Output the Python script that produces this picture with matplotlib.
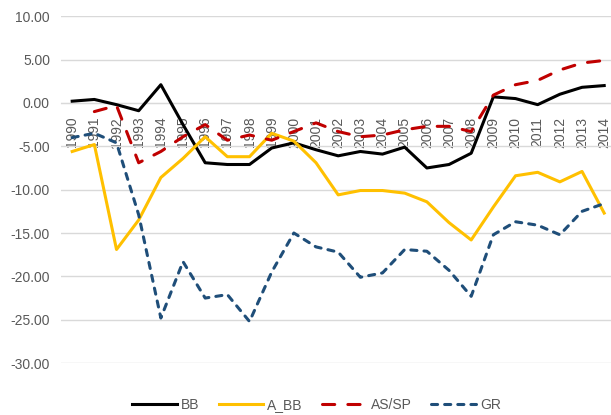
import numpy as np
import matplotlib
matplotlib.use("Agg")
import matplotlib.pyplot as plt

plt.rcParams['font.family'] = ['Liberation Sans Narrow', 'Liberation Sans', 'DejaVu Sans']

# --- Datos ---
years = list(range(1990, 2015))

bb = [0.2, 0.4, -0.2, -0.9, 2.1, -2.5, -6.9, -7.1, -7.1, -5.2, -4.6,
      -5.4, -6.1, -5.6, -5.9, -5.1, -7.5, -7.1, -5.8, 0.7, 0.5, -0.2, 1.0, 1.8, 2.0]
a_bb = [-5.6, -4.8, -16.9, -13.5, -8.6, -6.4, -3.9, -6.2, -6.2, -3.5, -4.4,
        -6.9, -10.6, -10.1, -10.1, -10.4, -11.4, -13.8, -15.8, -12.0, -8.4, -8.0, -9.1, -7.9, -12.7]
as_sp = [np.nan, -1.0, -0.3, -6.9, -5.6, -3.9, -2.5, -4.3, -3.7, -4.3, -3.3,
         -2.3, -3.3, -3.9, -3.7, -3.1, -2.7, -2.7, -3.3, 0.9, 2.1, 2.6, 3.8, 4.6, 4.9]
gr = [-4.0, -3.5, -4.6, -12.9, -24.8, -18.3, -22.5, -22.1, -25.2, -19.5, -15.0,
      -16.6, -17.2, -20.1, -19.6, -16.9, -17.1, -19.3, -22.3, -15.2, -13.7, -14.1, -15.2, -12.5, -11.6]

yticks = [10, 5, 0, -5, -10, -15, -20, -25, -30]

# --- Figura ---
fig = plt.figure(figsize=(6.11, 4.15), dpi=100)
ax = fig.add_axes([0.1, 0.125, 0.907, 0.836])

# eje x cruzando en 0 (antes de poner las etiquetas, porque reinicia los ticks)
ax.spines['bottom'].set_position(('data', 0))
ax.spines['bottom'].set_color('#D9D9D9')
for s in ['top', 'right', 'left']:
    ax.spines[s].set_visible(False)

x = np.arange(len(years))
lw = 2.2
ax.plot(x, bb, color='black', lw=lw, label='BB', zorder=3, solid_joinstyle='round')
ax.plot(x, a_bb, color='#FFC000', lw=lw, label='A_BB', zorder=3, solid_joinstyle='round')
ax.plot(x, as_sp, color='#C00000', lw=lw, label='AS/SP', zorder=3,
        dashes=(4, 4.3), dash_capstyle='round')
ax.plot(x, gr, color='#1F4E79', lw=lw, label='GR', zorder=3,
        dashes=(2, 2.3), dash_capstyle='round')

ax.set_ylim(-30, 10)
ax.set_xlim(-0.5, len(years) - 0.5)
ax.set_yticks(yticks)
ax.set_yticklabels([f"{v:.2f}" for v in yticks])
ax.yaxis.grid(True, color='#D9D9D9', lw=1)
ax.set_axisbelow(True)

ax.set_xticks(x)
ax.set_xticklabels([str(y) for y in years])
ax.tick_params(axis='x', length=0, pad=10, labelsize=10, labelcolor='#595959',
               labelrotation=90)
ax.tick_params(axis='y', length=0, pad=8, labelsize=10, labelcolor='#595959')

fig.legend(loc='center', bbox_to_anchor=(0.518, 0.025), ncol=4, frameon=False,
           fontsize=10, handlelength=3.2, columnspacing=1.4, handletextpad=0.3,
           labelcolor='#595959')

plt.savefig('out.png', dpi=100)
